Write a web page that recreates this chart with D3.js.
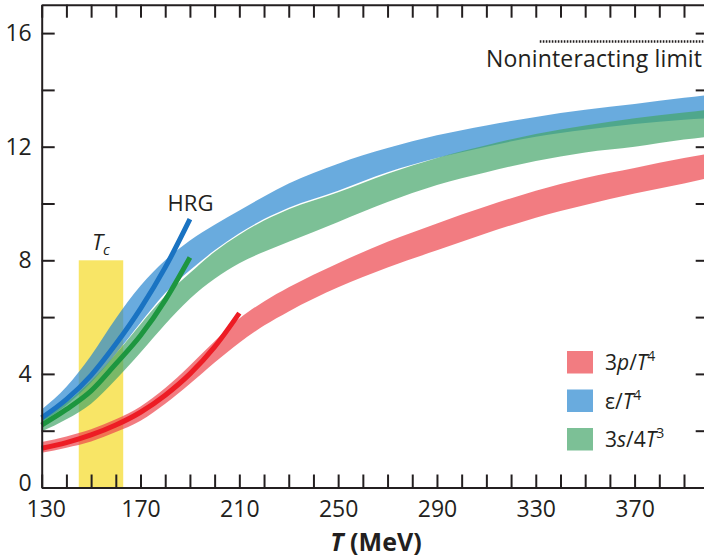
<!DOCTYPE html>
<html>
<head>
<meta charset="utf-8">
<script src="https://cdn.jsdelivr.net/npm/d3@7"></script>
<style>
  html, body { margin: 0; padding: 0; background: #fff; }
  svg text { font-family: "Open Sans", "Noto Sans", sans-serif; fill: #231f20; }
</style>
</head>
<body>
<svg id="chart" width="704" height="560"></svg>
<script>
// Temperature grid (MeV) for the lattice bands
const temps = [130, 140, 150, 160, 170, 180, 190, 200, 210, 220, 230, 250, 270, 290, 310, 330, 350, 370, 390, 400];

// eps/T^4 band
const energyLow  = [2.30, 2.90, 3.70, 4.70, 5.80, 6.85, 7.65, 8.35, 8.95, 9.45, 9.85, 10.45, 11.10, 11.60, 12.00, 12.35, 12.60, 12.80, 12.95, 13.00];
const energyHigh = [2.75, 3.55, 4.65, 5.95, 7.10, 8.00, 8.70, 9.25, 9.75, 10.25, 10.70, 11.40, 11.95, 12.40, 12.75, 13.05, 13.30, 13.50, 13.72, 13.82];

// 3s/4T^3 band
const entropyLow  = [1.97, 2.40, 2.95, 3.80, 4.75, 5.75, 6.65, 7.35, 7.90, 8.30, 8.65, 9.35, 10.05, 10.65, 11.10, 11.50, 11.80, 12.00, 12.25, 12.35];
const entropyHigh = [2.45, 3.00, 3.75, 4.70, 5.75, 6.75, 7.55, 8.30, 8.90, 9.40, 9.80, 10.40, 11.05, 11.60, 12.05, 12.45, 12.75, 13.00, 13.20, 13.30];

// 3p/T^4 band
const pressureLow  = [1.22, 1.40, 1.62, 1.95, 2.35, 2.95, 3.65, 4.40, 5.10, 5.70, 6.20, 7.05, 7.75, 8.35, 8.95, 9.50, 9.95, 10.35, 10.70, 10.90];
const pressureHigh = [1.60, 1.80, 2.05, 2.40, 2.85, 3.50, 4.30, 5.15, 5.95, 6.55, 7.05, 7.90, 8.65, 9.30, 9.90, 10.45, 10.90, 11.25, 11.60, 11.75];

// Hadron resonance gas curves
const hrgTemps = [130, 140, 150, 160, 170, 180, 190];
const hrgEnergy = [2.45, 3.10, 3.95, 5.05, 6.30, 7.75, 9.45];
const hrgEntropy = [2.20, 2.75, 3.40, 4.35, 5.35, 6.60, 8.10];
const hrgPressureTemps = [130, 140, 150, 160, 170, 180, 190, 200, 210];
const hrgPressure = [1.38, 1.58, 1.85, 2.20, 2.65, 3.25, 4.00, 4.95, 6.14];

// Crossover region and the free-gas limit
const tcRange = [145, 163];
const tcTop = 8;
const freeLimit = 15.7;
const freeLimitFrom = 330;

// Axis ticks
const xTicks = d3.range(130, 401, 10);
const xLabels = [130, 170, 210, 250, 290, 330, 370];
const yTicks = d3.range(0, 17, 2);
const yLabels = [0, 4, 8, 12, 16];

const svg = d3.select("#chart");
const x = d3.scaleLinear().domain([130, 400]).range([41.7, 708.7]);
const y = d3.scaleLinear().domain([0, 17]).range([487.5, 4.7]);

// Tc band
svg.append("rect")
  .attr("x", x(tcRange[0])).attr("width", x(tcRange[1]) - x(tcRange[0]))
  .attr("y", y(tcTop)).attr("height", y(0) - y(tcTop))
  .attr("fill", "#f8e566");

// Lattice bands
const bands = [
  { lo: energyLow,   hi: energyHigh,   color: "rgb(41,136,208)" },
  { lo: entropyLow,  hi: entropyHigh,  color: "rgb(69,165,105)" },
  { lo: pressureLow, hi: pressureHigh, color: "rgb(236,69,76)" }
];
const area = d3.area()
  .x(d => x(d.t)).y0(d => y(d.lo)).y1(d => y(d.hi))
  .curve(d3.curveMonotoneX);
bands.forEach(b => {
  const rows = temps.map((t, i) => ({ t, lo: b.lo[i], hi: b.hi[i] }));
  svg.append("path").datum(rows)
    .attr("d", area)
    .attr("fill", b.color)
    .attr("fill-opacity", 0.7);
});

// HRG lines
const line = d3.line().x(d => x(d.t)).y(d => y(d.v)).curve(d3.curveMonotoneX);
const hrg = [
  { t: hrgTemps, v: hrgEnergy, color: "#1a73c2" },
  { t: hrgTemps, v: hrgEntropy, color: "#1d963f" },
  { t: hrgPressureTemps, v: hrgPressure, color: "#ed1c24" }
];
hrg.forEach(h => {
  svg.append("path")
    .datum(h.t.map((t, i) => ({ t, v: h.v[i] })))
    .attr("d", line)
    .attr("fill", "none")
    .attr("stroke", h.color)
    .attr("stroke-width", 5);
});

// Free-gas limit
svg.append("line")
  .attr("x1", x(freeLimitFrom) + 4).attr("x2", 704)
  .attr("y1", y(freeLimit)).attr("y2", y(freeLimit))
  .attr("stroke", "#231f20").attr("stroke-width", 2.5)
  .attr("stroke-dasharray", "1.6,1.4");
svg.append("text")
  .attr("x", 702).attr("y", 67)
  .attr("text-anchor", "end")
  .attr("font-size", 23)
  .attr("textLength", 216)
  .text("Noninteracting limit");

// Axes
function styleAxis(g) {
  g.selectAll("path.domain").attr("stroke", "#231f20").attr("stroke-width", 2);
  g.selectAll(".tick line").attr("stroke", "#231f20").attr("stroke-width", 2);
  g.selectAll("text").attr("font-family", "\"Open Sans\", sans-serif").attr("fill", "#231f20");
}
svg.append("g").attr("transform", `translate(0,${y(0)})`)
  .call(d3.axisBottom(x).tickValues(xTicks).tickSizeInner(-13).tickSizeOuter(0).tickPadding(13)
    .tickFormat(d => xLabels.includes(d) ? d : ""))
  .call(styleAxis)
  .call(g => g.selectAll("text").attr("font-size", 23))
  .call(g => g.selectAll(".tick").filter(d => d === 130).select("text").attr("x", 4));
svg.append("g").attr("transform", `translate(0,${y(17)})`)
  .call(d3.axisTop(x).tickValues(xTicks).tickSizeInner(-13).tickSizeOuter(0).tickFormat(""))
  .call(styleAxis);
svg.append("g").attr("transform", `translate(${x(130)},0)`)
  .call(d3.axisLeft(y).tickValues(yTicks).tickSizeInner(-13).tickSizeOuter(0).tickPadding(10)
    .tickFormat(d => yLabels.includes(d) ? d : ""))
  .call(styleAxis)
  .call(g => g.selectAll("text").attr("font-size", 23))
  .call(g => g.selectAll(".tick").filter(d => d === 0).select("text").attr("y", -4));
svg.append("g").attr("transform", `translate(${x(400)},0)`)
  .call(d3.axisRight(y).tickValues(yTicks).tickSizeInner(-13).tickSizeOuter(0).tickFormat(""))
  .call(styleAxis);

// Axis title
const xt = svg.append("text")
  .attr("x", 376).attr("y", 551)
  .attr("text-anchor", "middle")
  .attr("font-size", 25).attr("font-weight", "bold");
xt.append("tspan").attr("font-style", "italic").text("T");
xt.append("tspan").text(" (MeV)");

// Annotations
svg.append("text").attr("x", 190.5).attr("y", 211)
  .attr("text-anchor", "middle").attr("font-size", 22).text("HRG");
const tc = svg.append("text").attr("x", 92).attr("y", 250).attr("font-size", 22);
tc.append("tspan").attr("font-style", "italic").text("T");
tc.append("tspan").attr("font-style", "italic").attr("font-size", 15).attr("dy", 5).text("c");

// Legend
const legend = [
  { color: "rgb(236,69,76)", parts: [["3", ""], ["p", "i"], ["/", ""], ["T", "i"], ["4", "s"]] },
  { color: "rgb(41,136,208)", parts: [["ε", ""], ["/", ""], ["T", "i"], ["4", "s"]] },
  { color: "rgb(69,165,105)", parts: [["3", ""], ["s", "i"], ["/4", ""], ["T", "i"], ["3", "s"]] }
];
legend.forEach((row, i) => {
  const top = 351 + i * 38.5;
  svg.append("rect").attr("x", 567).attr("y", top).attr("width", 26).attr("height", 22.5)
    .attr("fill", row.color).attr("fill-opacity", 0.7);
  const t = svg.append("text").attr("x", 605).attr("y", top + 19).attr("font-size", 21);
  row.parts.forEach(([s, k]) => {
    const sp = t.append("tspan").text(s);
    if (k === "i") sp.attr("font-style", "italic");
    if (k === "s") sp.attr("font-size", 14).attr("dy", -9);
  });
});
</script>
</body>
</html>
